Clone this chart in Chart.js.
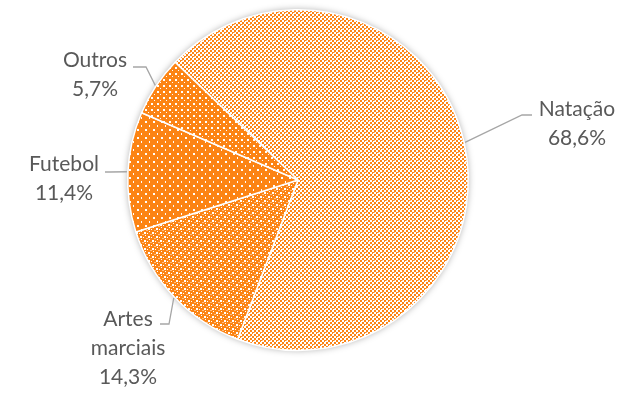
<!DOCTYPE html>
<html>
<head>
<meta charset="utf-8">
<script src="https://cdn.jsdelivr.net/npm/chart.js@4/dist/chart.umd.min.js"></script>
<style>
  html,body{margin:0;padding:0;background:#fff;}
  #wrap{width:640px;height:394px;position:relative;}
</style>
</head>
<body>
<div id="wrap"><canvas id="c" width="640" height="394"></canvas></div>
<script>
// ---- data ----
const categories = ["Natação", "Artes marciais", "Futebol", "Outros"];
const values = [68.6, 14.3, 11.4, 5.7];
const valueLabels = ["68,6%", "14,3%", "11,4%", "5,7%"];
const labelLines = [["Natação"], ["Artes", "marciais"], ["Futebol"], ["Outros"]];

// ---- styling ----
const ORANGE = "rgb(252,132,20)";
const LIGHT = "rgb(253,190,130)";
function makePattern(w, h, draw) {
  const c = document.createElement("canvas");
  c.width = w; c.height = h;
  const g = c.getContext("2d");
  g.imageSmoothingEnabled = false;
  draw(g);
  return document.getElementById("c").getContext("2d").createPattern(c, "repeat");
}
// Natação: light lattice (about half orange)
const patNat = makePattern(8, 8, g => {
  g.fillStyle = "#fff"; g.fillRect(0, 0, 8, 8);
  g.fillStyle = ORANGE;
  g.fillRect(0, 0, 2, 2); g.fillRect(4, 0, 2, 2);
  g.fillRect(2, 2, 2, 2); g.fillRect(6, 2, 2, 2);
  g.fillRect(0, 4, 2, 2); g.fillRect(4, 4, 2, 2);
  g.fillRect(2, 6, 2, 2); g.fillRect(6, 6, 2, 2);
  g.fillStyle = "#fff";
  g.fillRect(1, 1, 1, 1); g.fillRect(5, 5, 1, 1);
  g.fillStyle = LIGHT;
  g.fillRect(2, 0, 1, 1); g.fillRect(6, 4, 1, 1);
});
// Artes marciais: denser lattice (mostly orange)
const patArt = makePattern(8, 8, g => {
  g.fillStyle = ORANGE; g.fillRect(0, 0, 8, 8);
  g.fillStyle = "#fff";
  g.fillRect(0, 0, 2, 2); g.fillRect(4, 4, 2, 2);
  g.fillRect(3, 1, 1, 1); g.fillRect(7, 5, 1, 1);
  g.fillRect(1, 3, 1, 1); g.fillRect(5, 7, 1, 1);
  g.fillStyle = LIGHT;
  g.fillRect(2, 6, 2, 1); g.fillRect(6, 2, 2, 1);
});
// Futebol: solid orange with sparse white dots
const patFut = makePattern(8, 8, g => {
  g.fillStyle = ORANGE; g.fillRect(0, 0, 8, 8);
  g.fillStyle = "#fff";
  g.fillRect(1, 1, 2, 2); g.fillRect(5, 5, 1, 2);
});
// Outros: orange with denser white squares
const patOut = makePattern(6, 6, g => {
  g.fillStyle = ORANGE; g.fillRect(0, 0, 6, 6);
  g.fillStyle = "#fff";
  g.fillRect(1, 1, 2, 2);
  g.fillRect(4, 4, 1, 1);
});
const fills = [patNat, patArt, patFut, patOut];

// label layout (text centre, elbow point) — presentation only
const labelLayout = [
  { tx: 577, ty: 109, ex: 522, ey: 115, hx: 532 },
  { tx: 128, ty: 319, ex: 169, ey: 324, hx: 160 },
  { tx: 64,  ty: 164, ex: 110, ey: 172, hx: 105 },
  { tx: 95,  ty: 60,  ex: 146, ey: 67,  hx: 133 }
];

const shadowPlugin = {
  id: "shadow",
  beforeDatasetsDraw(chart) {
    const arc = chart.getDatasetMeta(0).data[0];
    if (!arc) return;
    const ctx = chart.ctx;
    ctx.save();
    ctx.shadowColor = "rgba(0,0,0,0.35)";
    ctx.shadowBlur = 7;
    ctx.fillStyle = "#fff";
    ctx.beginPath();
    ctx.arc(arc.x, arc.y, arc.outerRadius, 0, Math.PI * 2);
    ctx.fill();
    ctx.restore();
  }
};

const labelPlugin = {
  id: "pieLabels",
  afterDatasetsDraw(chart) {
    const ctx = chart.ctx;
    const meta = chart.getDatasetMeta(0);
    ctx.save();
    meta.data.forEach((arc, i) => {
      const mid = (arc.startAngle + arc.endAngle) / 2;
      const r = arc.outerRadius + 1;
      const sx = arc.x + Math.cos(mid) * r;
      const sy = arc.y + Math.sin(mid) * r;
      const L = labelLayout[i];
      ctx.strokeStyle = "#a6a6a6";
      ctx.lineWidth = 1.3;
      ctx.beginPath();
      ctx.moveTo(sx, sy);
      ctx.lineTo(L.ex, L.ey);
      ctx.lineTo(L.hx, L.ey);
      ctx.stroke();
      ctx.fillStyle = "#595959";
      ctx.font = "21px Lato, 'Open Sans', sans-serif";
      ctx.textAlign = "center";
      ctx.textBaseline = "middle";
      const lines = labelLines[i].concat([valueLabels[i]]);
      const pitch = 29;
      lines.forEach((t, k) => ctx.fillText(t, L.tx, L.ty + k * pitch));
    });
    ctx.restore();
  }
};

new Chart(document.getElementById("c"), {
  type: "pie",
  data: {
    labels: categories,
    datasets: [{
      data: values,
      backgroundColor: fills,
      borderColor: "#ffffff",
      borderWidth: 1.5,
      hoverOffset: 0
    }]
  },
  options: {
    responsive: false,
    animation: false,
    rotation: -46.2,
    layout: { padding: { left: 127, right: 171, top: 9, bottom: 43 } },
    plugins: {
      legend: { display: false },
      tooltip: { enabled: false },
      title: { display: false }
    }
  },
  plugins: [shadowPlugin, labelPlugin]
});
</script>
</body>
</html>
